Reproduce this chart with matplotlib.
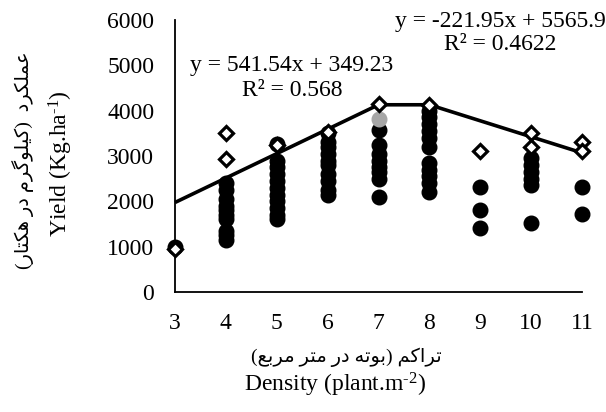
import matplotlib
matplotlib.use("Agg")
import matplotlib.pyplot as plt

plt.rcParams['font.family'] = ['Liberation Serif', 'DejaVu Sans']
plt.rcParams['mathtext.fontset'] = 'custom'
plt.rcParams['mathtext.rm'] = 'Liberation Serif'
plt.rcParams['mathtext.it'] = 'Liberation Serif:italic'

# ---------------- data ----------------
density_ticks = [3, 4, 5, 6, 7, 8, 9, 10, 11]
yield_ticks = [0, 1000, 2000, 3000, 4000, 5000, 6000]

black_x3 = [1000]
black_x4 = [2400, 2250, 2050, 1900, 1800, 1700, 1600, 1350, 1250, 1150]
black_x5 = [3270, 2900, 2750, 2600, 2450, 2300, 2150, 2000, 1850, 1700, 1600]
black_x6 = [3500, 3300, 3200, 3050, 2900, 2800, 2600, 2450, 2250, 2150]
black_x7 = [3570, 3250, 3050, 2900, 2750, 2650, 2500, 2100]
black_x8 = [4000, 3850, 3700, 3550, 3400, 3200, 2850, 2700, 2550, 2400, 2200]
black_x9 = [2320, 1810, 1420]
black_x10 = [2950, 2800, 2650, 2500, 2350, 1530]
black_x11 = [2320, 1720]

gray_x = [7]
gray_y = [3810]

diamond_x = [3, 4, 4, 5, 6, 7, 8, 9, 10, 10, 11, 11]
diamond_y = [950, 3500, 2930, 3240, 3540, 4150, 4130, 3100, 3500, 3200, 3300, 3100]

trend_x = [3, 7, 8, 11]
trend_y = [1975, 4130, 4130, 3070]

eq1 = "y = 541.54x + 349.23"
r1 = "R\u00b2 = 0.568"
eq2 = "y = -221.95x + 5565.9"
r2 = "R\u00b2 = 0.4622"

ylabel_fa = "عملکرد  (کیلوگرم در هکتار)"
ylabel_en = "Yield (Kg.ha$^{\\text{-1}}$)"
xlabel_fa = "تراکم (بوته در متر مربع)"
xlabel_en = "Density (plant.m$^{\\text{-2}}$)"

# ---------------- simple Persian shaping ----------------
FORMS = {
    '\u0639': ('\uFEC9', '\uFECA', '\uFECB', '\uFECC'),
    '\u0645': ('\uFEE1', '\uFEE2', '\uFEE3', '\uFEE4'),
    '\u0644': ('\uFEDD', '\uFEDE', '\uFEDF', '\uFEE0'),
    '\u06A9': ('\uFB8E', '\uFB8F', '\uFB90', '\uFB91'),
    '\u06CC': ('\uFBFC', '\uFBFD', '\uFBFE', '\uFBFF'),
    '\u06AF': ('\uFB92', '\uFB93', '\uFB94', '\uFB95'),
    '\u0647': ('\uFEE9', '\uFEEA', '\uFEEB', '\uFEEC'),
    '\u062A': ('\uFE95', '\uFE96', '\uFE97', '\uFE98'),
    '\u0628': ('\uFE8F', '\uFE90', '\uFE91', '\uFE92'),
    '\u0631': ('\uFEAD', '\uFEAE'),
    '\u062F': ('\uFEA9', '\uFEAA'),
    '\u0648': ('\uFEED', '\uFEEE'),
    '\u0627': ('\uFE8D', '\uFE8E'),
}


def shape(s):
    out = []
    for i, c in enumerate(s):
        if c not in FORMS:
            out.append(c)
            continue
        f = FORMS[c]
        prev = s[i - 1] if i > 0 else None
        nxt = s[i + 1] if i + 1 < len(s) else None
        cp = prev in FORMS and len(FORMS[prev]) == 4
        cn = nxt in FORMS and len(f) == 4
        if cp and cn:
            out.append(f[3])
        elif cp:
            out.append(f[1])
        elif cn:
            out.append(f[2])
        else:
            out.append(f[0])
    vis = ''.join(reversed(out))
    return vis.translate(str.maketrans({'(': ')', ')': '('}))


# ---------------- figure ----------------
W, H = 606, 412
fig = plt.figure(figsize=(W / 100, H / 100), dpi=100)
L, R, T, B = 175, 582, 20, 292
ax = fig.add_axes([L / W, 1 - B / H, (R - L) / W, (B - T) / H])

black_cols = [black_x3, black_x4, black_x5, black_x6, black_x7,
              black_x8, black_x9, black_x10, black_x11]
for xv, col in zip(density_ticks, black_cols):
    ax.plot([xv] * len(col), col, 'o', color='black', ms=10.5,
            mec='black', clip_on=False, zorder=3)
ax.plot(gray_x, gray_y, 'o', color='#A6A6A6', ms=10.5, mec='#A6A6A6',
        clip_on=False, zorder=3)
ax.plot(trend_x, trend_y, '-', color='black', lw=2.6, clip_on=False,
        zorder=4, solid_capstyle='butt')
ax.plot(diamond_x, diamond_y, 'D', mfc='white', mec='black', ms=7.5,
        mew=2.3, clip_on=False, zorder=5)

ax.set_xlim(3, 11)
ax.set_ylim(0, 6000)
ax.set_xticks(density_ticks)
ax.set_yticks(yield_ticks)
ax.tick_params(length=0, labelsize=17)
ax.tick_params(axis='y', pad=15)
ax.tick_params(axis='x', pad=15)
for sp in ['top', 'right']:
    ax.spines[sp].set_visible(False)
for sp in ['left', 'bottom']:
    ax.spines[sp].set_linewidth(1.3)
    ax.spines[sp].set_color('black')


def ftext(px, py, s, **kw):
    fig.text(px / W, 1 - py / H, s, ha='center', va='center', **kw)


ftext(292, 66, eq1, fontsize=17)
ftext(292, 90, r1, fontsize=17)
ftext(500, 22, eq2, fontsize=17)
ftext(500, 45, r2, fontsize=17)

ftext(23, 160, shape(ylabel_fa), fontsize=14, rotation=90)
ftext(61, 164, ylabel_en, fontsize=17, rotation=90)
ftext(346, 357, shape(xlabel_fa), fontsize=14)
ftext(335, 385, xlabel_en, fontsize=17)

fig.savefig('out.png', dpi=100)
